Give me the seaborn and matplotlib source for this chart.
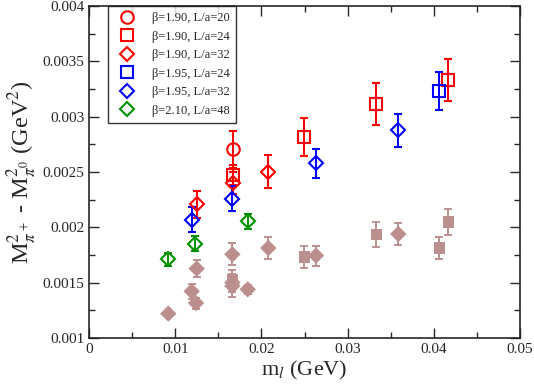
import numpy as np
import pandas as pd
import matplotlib
matplotlib.use("Agg")
import matplotlib.pyplot as plt
import seaborn as sns
from matplotlib.lines import Line2D

# ---------------- data ----------------
labels = ["β=1.90, L/a=20", "β=1.90, L/a=24", "β=1.90, L/a=32",
          "β=1.95, L/a=24", "β=1.95, L/a=32", "β=2.10, L/a=48"]
markers = ["o", "s", "D", "s", "D", "D"]
colors = ["#ff0000", "#ff0000", "#ff0000", "#0000ff", "#0000ff", "#009000"]

x_vals = [
    [0.01667],
    [0.01667, 0.02498, 0.03333, 0.04169],
    [0.01249, 0.01667, 0.0208],
    [0.04064],
    [0.01191, 0.01663, 0.02633, 0.03588],
    [0.0092, 0.0123, 0.01841],
]
y_vals = [
    [0.002705],
    [0.00247, 0.002814, 0.003114, 0.003335],
    [0.002208, 0.0024, 0.002504],
    [0.003232],
    [0.00207, 0.00226, 0.002579, 0.002877],
    [0.001711, 0.001853, 0.002055],
]
y_errs = [
    [0.000165],
    [0.00009, 0.00017, 0.00019, 0.00019],
    [0.00012, 0.0001, 0.00015],
    [0.00017],
    [0.00011, 0.00011, 0.00013, 0.00015],
    [0.00006, 0.00007, 0.00007],
]

# filled brown points
brown_x = [0.0092, 0.01191, 0.01241, 0.01249, 0.01663, 0.01663, 0.01663, 0.01663,
           0.01841, 0.0208, 0.02498, 0.02633, 0.03333, 0.03588, 0.04064, 0.04169]
brown_y = [0.00122, 0.001422, 0.001316, 0.001627, 0.001756, 0.00153, 0.0015, 0.00147,
           0.00144, 0.001813, 0.001732, 0.001745, 0.001934, 0.00194, 0.001813, 0.002048]
brown_err = [0.00002, 0.00007, 0.00005, 0.00008, 0.0001, 0.00008, 0.00008, 0.0001,
             0.00004, 0.0001, 0.0001, 0.00009, 0.00011, 0.0001, 0.0001, 0.00012]
brown_shape = ["D", "D", "D", "D", "D", "s", "D", "D",
               "D", "D", "s", "D", "s", "D", "s", "s"]

x_ticks = [0, 0.01, 0.02, 0.03, 0.04, 0.05]
x_ticklabels = ["0", "0.01", "0.02", "0.03", "0.04", "0.05"]
y_ticks = [0.001, 0.0015, 0.002, 0.0025, 0.003, 0.0035, 0.004]
y_ticklabels = ["0.001", "0.0015", "0.002", "0.0025", "0.003", "0.0035", "0.004"]

sns.set_theme(style="ticks")
plt.rcParams["font.family"] = ["Liberation Serif", "DejaVu Serif"]
plt.rcParams["mathtext.fontset"] = "stix"

fig = plt.figure(figsize=(5.34, 3.87), dpi=100)
ax = fig.add_axes([0.1667, 0.1266, 0.8071, 0.8579])

brown = "#bc8f8f"
ax.errorbar(brown_x, brown_y, yerr=brown_err, fmt="none", ecolor=brown,
            elinewidth=1.4, capsize=3, capthick=1.4, zorder=2)
bdf = pd.DataFrame({"x": brown_x, "y": brown_y, "shape": brown_shape})
sns.scatterplot(data=bdf, x="x", y="y", style="shape", markers={"D": "D", "s": "s"},
                color=brown, s=70, linewidth=0, legend=False, ax=ax, zorder=3)

handles = []
for lab, m, c, xs, ys, es in zip(labels, markers, colors, x_vals, y_vals, y_errs):
    ms = 9 if m == "o" else (8 if m == "s" else 7)
    ax.errorbar(xs, ys, yerr=es, fmt=m, mfc="none", mec=c, mew=1.5, ms=ms,
                ecolor=c, elinewidth=1.4, capsize=3, capthick=1.4, zorder=4)
    handles.append(Line2D([], [], marker=m, ls="none", mfc="none", mec=c,
                          mew=1.5, ms=ms, label=lab))

ax.set_xticks(x_ticks, x_ticklabels)
ax.set_yticks(y_ticks, y_ticklabels)
ax.set_xticks(np.arange(0.005, 0.05, 0.01), minor=True)
ax.set_yticks(np.arange(0.00125, 0.004, 0.0005), minor=True)
ax.set_xlim(0, 0.05)
ax.set_ylim(0.001, 0.004)
ax.tick_params(which="both", direction="in", top=True, right=True, labelsize=11)
ax.tick_params(which="major", length=7, width=1)
ax.tick_params(which="minor", length=4, width=1)
for sp in ax.spines.values():
    sp.set_linewidth(1.2)

ax.set_xlabel(r"m$_{\mathit{l}}$ (GeV)", fontsize=16, labelpad=2)
ax.set_ylabel(r"M$^2_{\pi^+}$ - M$^2_{\pi^0}$ (GeV$^2$)", fontsize=17.5, labelpad=3)

leg = ax.legend(handles=handles, loc="upper left", bbox_to_anchor=(0.045, 1.0),
                borderaxespad=0, fontsize=9, frameon=True, fancybox=False,
                edgecolor="black", handletextpad=1.0, borderpad=0.5,
                labelspacing=0.52)
leg.get_frame().set_linewidth(1.0)

fig.savefig("out.png", dpi=100)
